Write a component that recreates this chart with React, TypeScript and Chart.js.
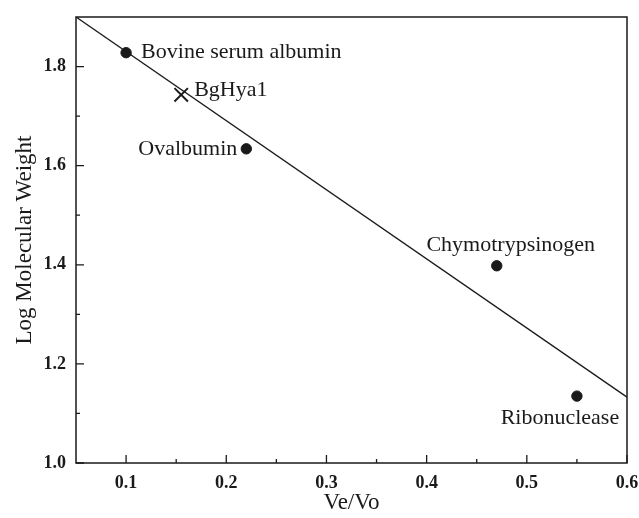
import { useEffect, useRef } from 'react';
import { Chart, registerables } from 'chart.js';

Chart.register(...registerables);

// ---- data ----
const proteinNames = ['Bovine serum albumin', 'Ovalbumin', 'Chymotrypsinogen', 'Ribonuclease'];
const proteinVeVo = [0.1, 0.22, 0.47, 0.55];
const proteinLogMW = [1.828, 1.634, 1.398, 1.135];

const unknownNames = ['BgHya1'];
const unknownVeVo = [0.155];
const unknownLogMW = [1.743];

const fitVeVo = [0.05, 0.6];
const fitLogMW = [1.9, 1.133];

const xMajorTicks = [0.1, 0.2, 0.3, 0.4, 0.5, 0.6];
const xMinorTicks = [0.15, 0.25, 0.35, 0.45, 0.55];
const yMajorTicks = [1.0, 1.2, 1.4, 1.6, 1.8];
const yMinorTicks = [1.1, 1.3, 1.5, 1.7];

// label placement (style): [dx, dy, align]
const proteinLabelPlacement: [number, number, CanvasTextAlign][] = [
  [15, 0, 'left'],
  [-9, 0, 'right'],
  [14, -21, 'center'],
  [-17, 22, 'center'],
];
const unknownLabelPlacement: [number, number, CanvasTextAlign][] = [[13, -5, 'left']];

const FONT = '"Liberation Serif", "Times New Roman", serif';
const INK = '#1a1a1a';

const framePlugin = {
  id: 'frameAndLabels',
  afterDraw(chart: any) {
    const { ctx, chartArea, scales } = chart;
    const x = scales.x;
    const y = scales.y;
    ctx.save();
    ctx.strokeStyle = INK;
    ctx.lineWidth = 1.5;
    ctx.strokeRect(chartArea.left, chartArea.top, chartArea.right - chartArea.left, chartArea.bottom - chartArea.top);
    ctx.lineWidth = 1.3;
    ctx.beginPath();
    xMajorTicks.forEach((v) => {
      const px = x.getPixelForValue(v);
      ctx.moveTo(px, chartArea.bottom);
      ctx.lineTo(px, chartArea.bottom - 8);
    });
    xMinorTicks.forEach((v) => {
      const px = x.getPixelForValue(v);
      ctx.moveTo(px, chartArea.bottom);
      ctx.lineTo(px, chartArea.bottom - 4);
    });
    yMajorTicks.forEach((v) => {
      const py = y.getPixelForValue(v);
      ctx.moveTo(chartArea.left, py);
      ctx.lineTo(chartArea.left + 8, py);
    });
    yMinorTicks.forEach((v) => {
      const py = y.getPixelForValue(v);
      ctx.moveTo(chartArea.left, py);
      ctx.lineTo(chartArea.left + 4, py);
    });
    ctx.stroke();

    ctx.fillStyle = INK;
    ctx.font = `22px ${FONT}`;
    ctx.textBaseline = 'middle';
    const drawLabels = (names: string[], xs: number[], ys: number[], place: [number, number, CanvasTextAlign][]) => {
      names.forEach((n, i) => {
        const px = x.getPixelForValue(xs[i]);
        const py = y.getPixelForValue(ys[i]);
        const [dx, dy, al] = place[i];
        ctx.textAlign = al;
        ctx.fillText(n, px + dx, py + dy);
      });
    };
    drawLabels(proteinNames, proteinVeVo, proteinLogMW, proteinLabelPlacement);
    drawLabels(unknownNames, unknownVeVo, unknownLogMW, unknownLabelPlacement);
    ctx.restore();
  },
};

export default function App() {
  const ref = useRef<HTMLCanvasElement>(null);
  useEffect(() => {
    document.body.style.margin = '0';
    const chart = new Chart(ref.current!, {
      type: 'scatter',
      data: {
        datasets: [
          {
            type: 'line',
            label: 'fit',
            data: fitVeVo.map((v, i) => ({ x: v, y: fitLogMW[i] })),
            borderColor: INK,
            borderWidth: 1.3,
            pointRadius: 0,
            fill: false,
          } as any,
          {
            label: 'standards',
            data: proteinVeVo.map((v, i) => ({ x: v, y: proteinLogMW[i] })),
            backgroundColor: INK,
            borderColor: INK,
            pointRadius: 5.2,
          },
          {
            label: 'unknown',
            data: unknownVeVo.map((v, i) => ({ x: v, y: unknownLogMW[i] })),
            pointStyle: 'crossRot',
            borderColor: INK,
            borderWidth: 2,
            pointRadius: 9.5,
          },
        ],
      },
      options: {
        animation: false,
        responsive: false,
        layout: { padding: { top: 17, right: 12, left: 0, bottom: 0 } },
        plugins: { legend: { display: false }, tooltip: { enabled: false } },
        scales: {
          x: {
            type: 'linear',
            min: 0.05,
            max: 0.6,
            afterBuildTicks: (s: any) => {
              s.ticks = xMajorTicks.map((v) => ({ value: v }));
            },
            afterFit: (s: any) => {
              s.height = 55;
              s.paddingRight = 0;
              s.paddingLeft = 0;
            },
            grid: { display: false, drawTicks: false },
            border: { display: false },
            ticks: {
              padding: 10,
              color: INK,
              font: { family: FONT, size: 18, weight: 'bold' },
              callback: (v: any) => Number(v).toFixed(1),
              maxRotation: 0,
            },
            title: {
              display: true,
              text: 'Ve/Vo',
              color: INK,
              font: { family: FONT, size: 23 },
              padding: { top: 0, bottom: 1 },
            },
          },
          y: {
            type: 'linear',
            min: 1.0,
            max: 1.9,
            afterBuildTicks: (s: any) => {
              s.ticks = yMajorTicks.map((v) => ({ value: v }));
            },
            afterFit: (s: any) => {
              s.width = 76;
              s.paddingTop = 0;
              s.paddingBottom = 0;
            },
            grid: { display: false, drawTicks: false },
            border: { display: false },
            ticks: {
              padding: 10,
              color: INK,
              font: { family: FONT, size: 18, weight: 'bold' },
              callback: (v: any) => Number(v).toFixed(1),
            },
            title: {
              display: true,
              text: 'Log Molecular Weight',
              color: INK,
              font: { family: FONT, size: 23 },
              padding: { top: 11, bottom: 0 },
            },
          },
        },
      },
      plugins: [framePlugin],
    });
    return () => chart.destroy();
  }, []);
  return (
    <div style={{ width: 639, height: 518, background: '#fff' }}>
      <canvas ref={ref} width={639} height={518} style={{ display: 'block' }} />
    </div>
  );
}
